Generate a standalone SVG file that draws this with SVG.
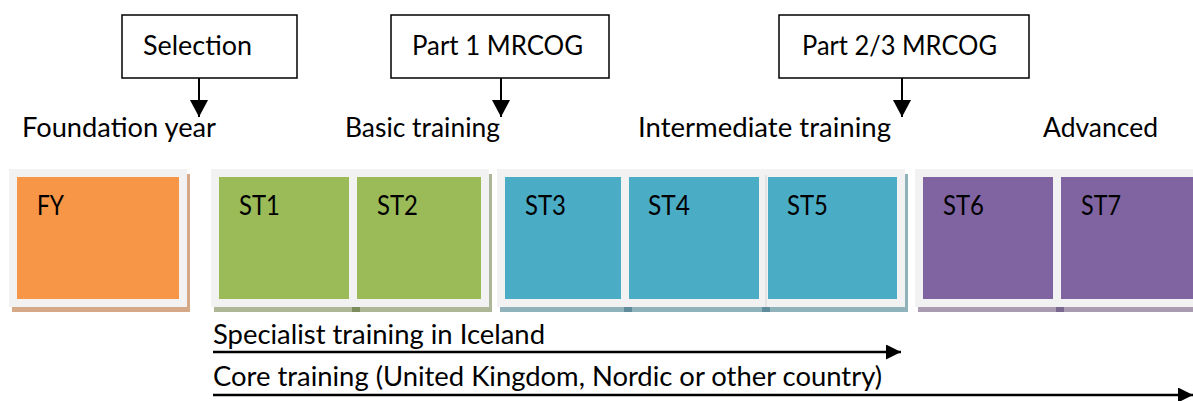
<svg xmlns="http://www.w3.org/2000/svg" width="1193" height="401" viewBox="0 0 1193 401">
<defs>
<style>
text{font-family:Lato,"Open Sans","Liberation Sans",sans-serif;font-size:27px;fill:#000}
.frame{fill:#F2F2F2}
.box{fill:#fff;stroke:#000;stroke-width:1.5}
.conn{stroke:#000;fill:none}
</style>
<marker id="ah" markerUnits="userSpaceOnUse" markerWidth="16" markerHeight="16" refX="15" refY="7.5" orient="auto"><path d="M0,0 L15,7.5 L0,15 z" fill="#000"/></marker>
<marker id="av" markerUnits="userSpaceOnUse" markerWidth="18" markerHeight="19" refX="17" refY="9" orient="auto"><path d="M0,0 L17,9 L0,18 z" fill="#000"/></marker>
</defs>
<rect width="1193" height="401" fill="#fff"/>

<g id="fy-group">
<rect x="12" y="174" width="178" height="138" fill="#D5A887"/>
<rect class="frame" x="9" y="169" width="178" height="138"/>
<g id="FY"><rect x="17" y="177" width="162" height="122" fill="#F79646"/><text x="37" y="215" textLength="27" lengthAdjust="spacingAndGlyphs">FY</text></g>
</g>

<g id="basic-group">
<rect x="214" y="174" width="278" height="138" fill="#ADB797"/>
<rect x="352" y="307" width="8" height="5" fill="#7D8C5C"/>
<rect class="frame" x="211" y="169" width="278" height="138"/>
<g id="ST1"><rect x="219" y="177" width="130" height="122" fill="#9BBB59"/><text x="239" y="215" textLength="41" lengthAdjust="spacingAndGlyphs">ST1</text></g>
<g id="ST2"><rect x="357" y="177" width="124" height="122" fill="#9BBB59"/><text x="377" y="215" textLength="41" lengthAdjust="spacingAndGlyphs">ST2</text></g>
</g>

<g id="intermediate-group">
<rect x="500" y="174" width="408" height="138" fill="#8FB2BB"/>
<rect x="624" y="307" width="8" height="5" fill="#5F8C9A"/>
<rect x="762" y="307" width="8" height="5" fill="#5F8C9A"/>
<rect class="frame" x="497" y="169" width="408" height="138"/>
<line x1="766" y1="175" x2="766" y2="307" stroke="#D6D6D6" stroke-width="1"/>
<g id="ST3"><rect x="505" y="177" width="116" height="122" fill="#4BACC6"/><text x="525" y="215" textLength="41" lengthAdjust="spacingAndGlyphs">ST3</text></g>
<g id="ST4"><rect x="629" y="177" width="130" height="122" fill="#4BACC6"/><text x="648" y="215" textLength="42" lengthAdjust="spacingAndGlyphs">ST4</text></g>
<g id="ST5"><rect x="768" y="177" width="129" height="122" fill="#4BACC6"/><text x="787" y="215" textLength="41" lengthAdjust="spacingAndGlyphs">ST5</text></g>
</g>

<g id="advanced-group">
<rect x="918" y="174" width="290" height="138" fill="#A89BB2"/>
<rect x="1056" y="307" width="8" height="5" fill="#7A6790"/>
<rect class="frame" x="915" y="169" width="290" height="138"/>
<g id="ST6"><rect x="923" y="177" width="130" height="122" fill="#8064A2"/><text x="943" y="215" textLength="41" lengthAdjust="spacingAndGlyphs">ST6</text></g>
<g id="ST7"><rect x="1061" y="177" width="140" height="122" fill="#8064A2"/><text x="1081" y="215" textLength="40" lengthAdjust="spacingAndGlyphs">ST7</text></g>
</g>

<g id="selection"><rect class="box" x="122" y="15" width="175" height="63"/><text x="143" y="55" textLength="109" lengthAdjust="spacingAndGlyphs">Selection</text></g>
<g id="part1"><rect class="box" x="391" y="15" width="218" height="63"/><text x="412" y="55" textLength="171" lengthAdjust="spacingAndGlyphs">Part 1 MRCOG</text></g>
<g id="part23"><rect class="box" x="779" y="15" width="250" height="63"/><text x="802" y="55" textLength="195" lengthAdjust="spacingAndGlyphs">Part 2/3 MRCOG</text></g>

<g id="stage-labels">
<text x="22" y="137" textLength="194" lengthAdjust="spacingAndGlyphs">Foundation year</text>
<text x="345" y="137" textLength="155" lengthAdjust="spacingAndGlyphs">Basic training</text>
<text x="638" y="137" textLength="253" lengthAdjust="spacingAndGlyphs">Intermediate training</text>
<text x="1043" y="137" textLength="115" lengthAdjust="spacingAndGlyphs">Advanced</text>
<text x="213" y="344" textLength="332" lengthAdjust="spacingAndGlyphs">Specialist training in Iceland</text>
<text x="213" y="386" textLength="669" lengthAdjust="spacingAndGlyphs">Core training (United Kingdom, Nordic or other country)</text>
</g>

<g id="connectors">
<line class="conn" x1="199" y1="78" x2="199" y2="117" stroke-width="2" marker-end="url(#av)"/>
<line class="conn" x1="501" y1="78" x2="501" y2="117" stroke-width="2" marker-end="url(#av)"/>
<line class="conn" x1="902" y1="78" x2="902" y2="117" stroke-width="2" marker-end="url(#av)"/>
<line class="conn" x1="213" y1="352" x2="901" y2="352" stroke-width="2.5" marker-end="url(#ah)"/>
<line class="conn" x1="213" y1="395" x2="1193" y2="395" stroke-width="2.5" marker-end="url(#ah)"/>
</g>
</svg>
